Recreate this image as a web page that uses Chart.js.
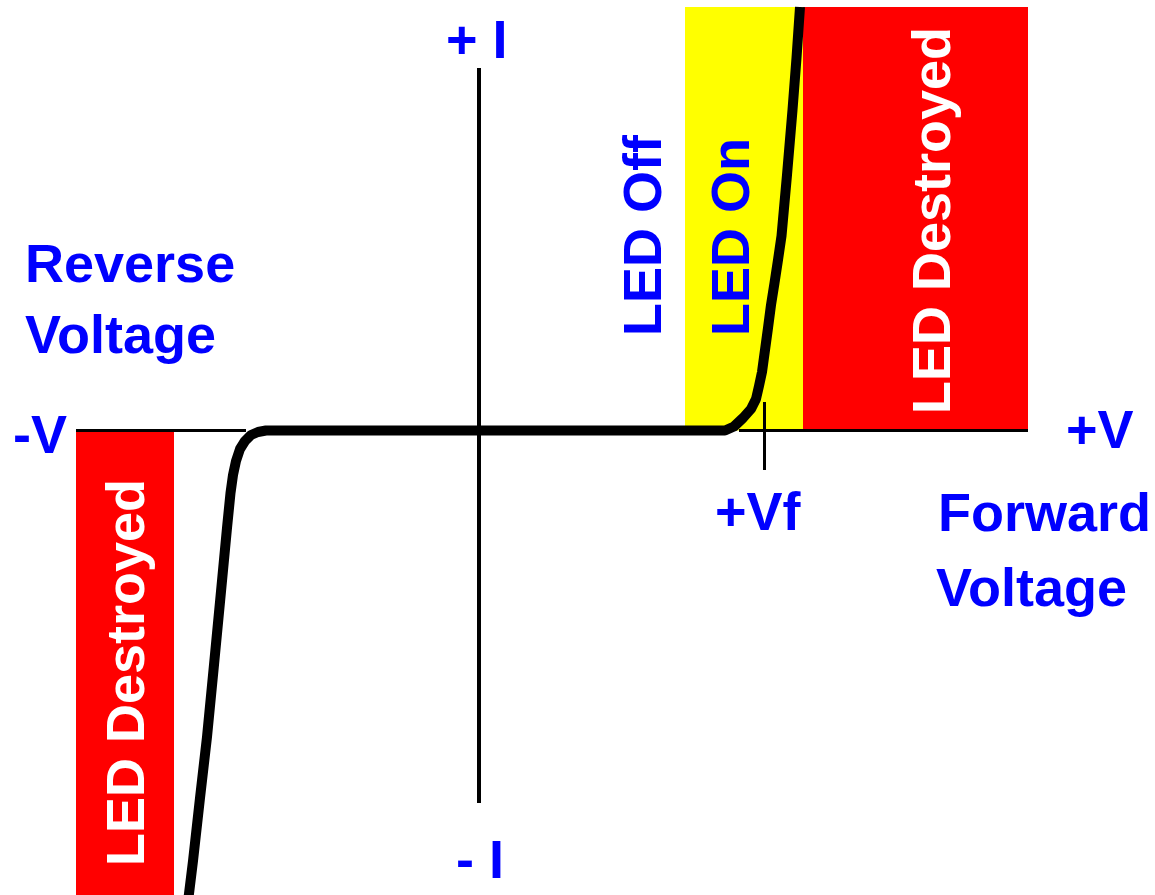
<!DOCTYPE html>
<html>
<head>
<meta charset="utf-8">
<script src="https://cdn.jsdelivr.net/npm/chart.js@4"></script>
<style>
  html, body { margin: 0; padding: 0; background: #ffffff; }
  #wrap { width: 1155px; height: 895px; }
</style>
</head>
<body>
<div id="wrap"><canvas id="ledChart" width="1155" height="895"></canvas></div>
<script>
// LED I-V curve, arbitrary units (origin where the axes cross)
const reverseV = [-2.92, -2.86, -2.79, -2.72, -2.655, -2.59, -2.52, -2.485, -2.46, -2.43, -2.39, -2.34, -2.28, -2.21, -2.13];
const reverseI = [-4.795, -4.305, -3.675, -3.065, -2.395, -1.715, -0.975, -0.625, -0.445, -0.305, -0.185, -0.105, -0.045, -0.015, 0];
const forwardV = [2.46, 2.55, 2.64, 2.72, 2.77, 2.80, 2.83, 2.86, 2.89, 2.92, 2.955, 2.99, 3.025, 3.08, 3.135, 3.175, 3.21];
const forwardI = [0, 0.04, 0.125, 0.215, 0.315, 0.445, 0.585, 0.805, 1.025, 1.255, 1.475, 1.705, 1.945, 2.555, 3.205, 3.725, 4.235];

// shaded zones
const zoneColors = ['#ff0000', '#ffff00', '#ff0000'];
const zoneVFrom = [-4.03, 2.06, 3.24];
const zoneVTo = [-3.05, 3.24, 5.49];
const zoneIFrom = [0, 0, 0];
const zoneITo = [-4.7, 4.235, 4.235];

// axes and the Vf marker
const vAxisLeft = [-4.03, -2.33];
const vAxisRight = [2.60, 5.49];
const iAxis = [-3.725, 3.625];
const vf = 2.855;
const vfTick = [-0.395, 0.285];

const vRange = [-4.79, 6.76];
const iRange = [-4.645, 4.305];

document.addEventListener('DOMContentLoaded', function () {

    const curvePoints = [];
    reverseV.forEach((v, i) => curvePoints.push({ x: v, y: reverseI[i] }));
    forwardV.forEach((v, i) => curvePoints.push({ x: v, y: forwardI[i] }));

    const font = "bold 54px 'Liberation Sans', Arial, sans-serif";
    const blue = '#0000ff';

    const plainLabels = [
        { text: 'Reverse', x: 25, y: 282 },
        { text: 'Voltage', x: 25, y: 353 },
        { text: 'Forward', x: 938, y: 531 },
        { text: 'Voltage', x: 936, y: 606 },
        { text: '+Vf', x: 715, y: 530 },
        { text: '+V', x: 1066, y: 448 },
        { text: '-V', x: 13, y: 453 },
        { text: '+ I', x: 446, y: 58 },
        { text: '- I', x: 456, y: 878 }
    ];

    const sideLabels = [
        { text: 'LED Off', x: 661, y: 336, color: blue },
        { text: 'LED On', x: 749, y: 336, color: blue },
        { text: 'LED Destroyed', x: 950, y: 414, color: '#ffffff' },
        { text: 'LED Destroyed', x: 144, y: 866, color: '#ffffff' }
    ];

    const backdrop = {
        id: 'backdrop',
        beforeDatasetsDraw(chart) {
            const ctx = chart.ctx;
            const xs = chart.scales.x;
            const ys = chart.scales.y;
            ctx.save();

            zoneColors.forEach((c, i) => {
                const x1 = xs.getPixelForValue(zoneVFrom[i]);
                const x2 = xs.getPixelForValue(zoneVTo[i]);
                const y1 = ys.getPixelForValue(zoneIFrom[i]);
                const y2 = ys.getPixelForValue(zoneITo[i]);
                ctx.fillStyle = c;
                ctx.fillRect(Math.min(x1, x2), Math.min(y1, y2), Math.abs(x2 - x1), Math.abs(y2 - y1));
            });

            ctx.strokeStyle = '#000000';
            ctx.lineCap = 'butt';

            // horizontal axis
            ctx.lineWidth = 3;
            const y0 = ys.getPixelForValue(0);
            [vAxisLeft, vAxisRight].forEach(seg => {
                ctx.beginPath();
                ctx.moveTo(xs.getPixelForValue(seg[0]), y0);
                ctx.lineTo(xs.getPixelForValue(seg[1]), y0);
                ctx.stroke();
            });

            // vertical axis
            ctx.lineWidth = 4;
            const x0 = xs.getPixelForValue(0);
            ctx.beginPath();
            ctx.moveTo(x0, ys.getPixelForValue(iAxis[0]));
            ctx.lineTo(x0, ys.getPixelForValue(iAxis[1]));
            ctx.stroke();

            // Vf marker
            ctx.lineWidth = 3;
            const xf = xs.getPixelForValue(vf);
            ctx.beginPath();
            ctx.moveTo(xf, ys.getPixelForValue(vfTick[0]));
            ctx.lineTo(xf, ys.getPixelForValue(vfTick[1]));
            ctx.stroke();

            ctx.restore();
        },
        afterDraw(chart) {
            const ctx = chart.ctx;
            ctx.save();
            ctx.font = font;
            ctx.textAlign = 'left';
            ctx.textBaseline = 'alphabetic';
            ctx.fillStyle = blue;
            plainLabels.forEach(l => ctx.fillText(l.text, l.x, l.y));

            sideLabels.forEach(l => {
                ctx.save();
                ctx.translate(l.x, l.y);
                ctx.rotate(-Math.PI / 2);
                ctx.fillStyle = l.color;
                ctx.fillText(l.text, 0, 0);
                ctx.restore();
            });
            ctx.restore();
        }
    };

    const ctx = document.getElementById('ledChart').getContext('2d');
    new Chart(ctx, {
        type: 'scatter',
        data: {
            datasets: [{
                label: 'LED current',
                data: curvePoints,
                showLine: true,
                borderColor: '#000000',
                borderWidth: 10,
                borderCapStyle: 'butt',
                borderJoinStyle: 'round',
                pointRadius: 0,
                tension: 0
            }]
        },
        options: {
            responsive: false,
            animation: false,
            devicePixelRatio: 1,
            layout: { padding: 0 },
            scales: {
                x: { type: 'linear', min: vRange[0], max: vRange[1], display: false },
                y: { type: 'linear', min: iRange[0], max: iRange[1], display: false }
            },
            plugins: {
                legend: { display: false },
                tooltip: { enabled: false }
            }
        },
        plugins: [backdrop]
    });
});
</script>
</body>
</html>
